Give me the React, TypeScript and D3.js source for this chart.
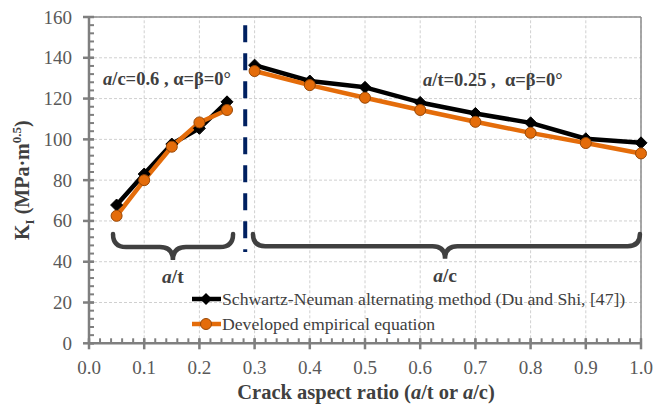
import React from "react";
import * as d3 from "d3";

const atX = [0.05, 0.1, 0.15, 0.2, 0.25];
const atSchwartz = [67.8, 83, 97.7, 105.4, 118.4];
const atEmpirical = [62.5, 80, 96.4, 108.3, 114.4];

const acX = [0.3, 0.4, 0.5, 0.6, 0.7, 0.8, 0.9, 1.0];
const acSchwartz = [136.4, 128.6, 125.5, 118.1, 112.7, 108.1, 100.3, 98.3];
const acEmpirical = [133.5, 126.6, 120.4, 114.4, 108.6, 103.2, 98.2, 93.1];

const xTicks = [0, 0.1, 0.2, 0.3, 0.4, 0.5, 0.6, 0.7, 0.8, 0.9, 1.0];
const yTicks = [0, 20, 40, 60, 80, 100, 120, 140, 160];
const legendLabels = [
  "Schwartz-Neuman alternating method (Du and Shi, [47])",
  "Developed empirical equation",
];

const W = 656;
const H = 406;
const left = 89;
const right = 641;
const top = 17;
const bottom = 343.3;

const BLACK = "#000000";
const ORANGE = "#E46C0A";
const ORANGE_DARK = "#984807";
const TXT = "#404040";

export default function App() {
  const x = d3.scaleLinear().domain([0, 1]).range([left, right]);
  const y = d3.scaleLinear().domain([0, 160]).range([bottom, top]);
  const line = d3
    .line<[number, number]>()
    .x((d) => x(d[0]))
    .y((d) => y(d[1]));

  const zip = (xs: number[], ys: number[]) =>
    xs.map((v, i) => [v, ys[i]] as [number, number]);

  const xMinor = d3.range(0, 1.0001, 0.02);
  const yMinor = d3.range(0, 160.001, 4);

  const diamond = (cx: number, cy: number, r: number) =>
    `M${cx},${cy - r}L${cx + r},${cy}L${cx},${cy + r}L${cx - r},${cy}Z`;

  const brace = (x0: number, x1: number, xm: number, yEnd: number, yMid: number, yTip: number) => {
    const X0 = x(x0), X1 = x(x1), XM = x(xm);
    const YE = y(yEnd), YM = y(yMid), YT = y(yTip);
    const r = YM - YE;
    const r2 = YT - YM;
    return `M${X0},${YE} Q${X0},${YM} ${X0 + r},${YM} L${XM - r2},${YM} Q${XM},${YM} ${XM},${YT} Q${XM},${YM} ${XM + r2},${YM} L${X1 - r},${YM} Q${X1},${YM} ${X1},${YE}`;
  };

  const series = [
    { xs: atX, ys: atSchwartz, color: BLACK, kind: "d" },
    { xs: acX, ys: acSchwartz, color: BLACK, kind: "d" },
    { xs: atX, ys: atEmpirical, color: ORANGE, kind: "c" },
    { xs: acX, ys: acEmpirical, color: ORANGE, kind: "c" },
  ];

  return (
    <svg width={W} height={H} style={{ position: "absolute", left: 0, top: 0, background: "#fff" }}>
      <style>{`text, tspan { font-family: "Liberation Serif"; }`}</style>
      <rect x={0} y={0} width={W} height={H} fill="#fff" />
      {xTicks.slice(1).map((t) => (
        <line key={"gx" + t} x1={x(t)} x2={x(t)} y1={y(0)} y2={y(160)} stroke="#D0D0D0" strokeWidth={1} strokeDasharray="3,2" />
      ))}
      {yTicks.slice(1).map((t) => (
        <line key={"gy" + t} x1={x(0)} x2={x(1)} y1={y(t)} y2={y(t)} stroke="#D0D0D0" strokeWidth={1} strokeDasharray="3,2" />
      ))}
      <line x1={x(0)} x2={x(1)} y1={y(160)} y2={y(160)} stroke="#8C8C8C" strokeWidth={1.5} />
      <line x1={x(1)} x2={x(1)} y1={y(160)} y2={y(0)} stroke="#8C8C8C" strokeWidth={1.5} />
      <line x1={x(0)} x2={x(1)} y1={y(0)} y2={y(0)} stroke="#7F7F7F" strokeWidth={2.5} />
      <line x1={x(0)} x2={x(0)} y1={y(0)} y2={y(160)} stroke="#7F7F7F" strokeWidth={2.5} />
      {xMinor.map((t, i) => (
        <line key={"xm" + i} x1={x(t)} x2={x(t)} y1={y(0)} y2={y(0) - 5} stroke="#7F7F7F" strokeWidth={2} />
      ))}
      {xTicks.map((t) => (
        <line key={"xt" + t} x1={x(t)} x2={x(t)} y1={y(0) - 5} y2={y(0) + 6} stroke="#7F7F7F" strokeWidth={2.5} />
      ))}
      {yMinor.map((t, i) => (
        <line key={"ym" + i} x1={x(0)} x2={x(0) + 5} y1={y(t)} y2={y(t)} stroke="#7F7F7F" strokeWidth={2} />
      ))}
      {yTicks.map((t) => (
        <line key={"yt" + t} x1={x(0) - 6} x2={x(0) + 5} y1={y(t)} y2={y(t)} stroke="#7F7F7F" strokeWidth={2.5} />
      ))}
      {xTicks.map((t) => (
        <text key={"xl" + t} x={x(t)} y={374} textAnchor="middle" fontSize={19} fill="#595959">
          {t.toFixed(1)}
        </text>
      ))}
      {yTicks.map((t) => (
        <text key={"yl" + t} x={72} y={y(t) + 6.5} textAnchor="end" fontSize={19} fill="#595959">
          {t}
        </text>
      ))}
      <text x={366} y={399} textAnchor="middle" fontSize={20.5} fontWeight="bold" fill={TXT}>
        Crack aspect ratio (<tspan fontStyle="italic">a</tspan>/t or <tspan fontStyle="italic">a</tspan>/c)
      </text>
      <text transform={`translate(29,${(top + bottom) / 2}) rotate(-90)`} textAnchor="middle" fontSize={20} fontWeight="bold" fill={TXT}>
        K<tspan fontSize={13} dy={5}>I</tspan>
        <tspan dy={-5}> (MPa·m</tspan>
        <tspan fontSize={13} dy={-8}>0.5</tspan>
        <tspan dy={8}>)</tspan>
      </text>
      <line x1={x(0.283)} x2={x(0.283)} y1={y(156)} y2={y(44.8)} stroke="#002060" strokeWidth={4} strokeDasharray="17,11" />
      <path d={brace(0.0435, 0.261, 0.152, 53.6, 47.2, 40.8)} fill="none" stroke="#404040" strokeWidth={4.5} strokeLinecap="round" />
      <path d={brace(0.297, 0.998, 0.645, 53.6, 47.6, 41.5)} fill="none" stroke="#404040" strokeWidth={4.5} strokeLinecap="round" />
      <text x={x(0.152)} y={283} textAnchor="middle" fontSize={19.5} fontWeight="bold" fill={TXT}>
        <tspan fontStyle="italic">a</tspan>/t
      </text>
      <text x={x(0.645)} y={282} textAnchor="middle" fontSize={19.5} fontWeight="bold" fill={TXT}>
        <tspan fontStyle="italic">a</tspan>/c
      </text>
      <text x={103} y={85} fontSize={18.5} fontWeight="bold" fill={TXT}>
        <tspan fontStyle="italic">a</tspan>/c=0.6 , α=β=0°
      </text>
      <text x={423} y={86} fontSize={18.5} fontWeight="bold" fill={TXT}>
        <tspan fontStyle="italic">a</tspan>{"/t=0.25 ,\u00A0 α=β=0°"}
      </text>
      {series.map((s, i) => (
        <path key={"ln" + i} d={line(zip(s.xs, s.ys)) || ""} fill="none" stroke={s.color} strokeWidth={4.5} strokeLinejoin="round" />
      ))}
      {series.map((s, i) =>
        zip(s.xs, s.ys).map((p, j) =>
          s.kind === "d" ? (
            <path key={"m" + i + "-" + j} d={diamond(x(p[0]), y(p[1]), 6)} fill={BLACK} stroke={BLACK} strokeWidth={1} />
          ) : (
            <circle key={"m" + i + "-" + j} cx={x(p[0])} cy={y(p[1])} r={5.5} fill={ORANGE} stroke={ORANGE_DARK} strokeWidth={1} />
          )
        )
      )}
      <line x1={192} x2={221} y1={299} y2={299} stroke={BLACK} strokeWidth={4.5} />
      <path d={diamond(206, 299, 6)} fill={BLACK} />
      <text x={222} y={305} fontSize={17.7} fill="#404040">{legendLabels[0]}</text>
      <line x1={192} x2={221} y1={324} y2={324} stroke={ORANGE} strokeWidth={4.5} />
      <circle cx={206} cy={324} r={5.5} fill={ORANGE} stroke={ORANGE_DARK} strokeWidth={1} />
      <text x={222} y={330} fontSize={17.7} fill="#404040">{legendLabels[1]}</text>
    </svg>
  );
}
